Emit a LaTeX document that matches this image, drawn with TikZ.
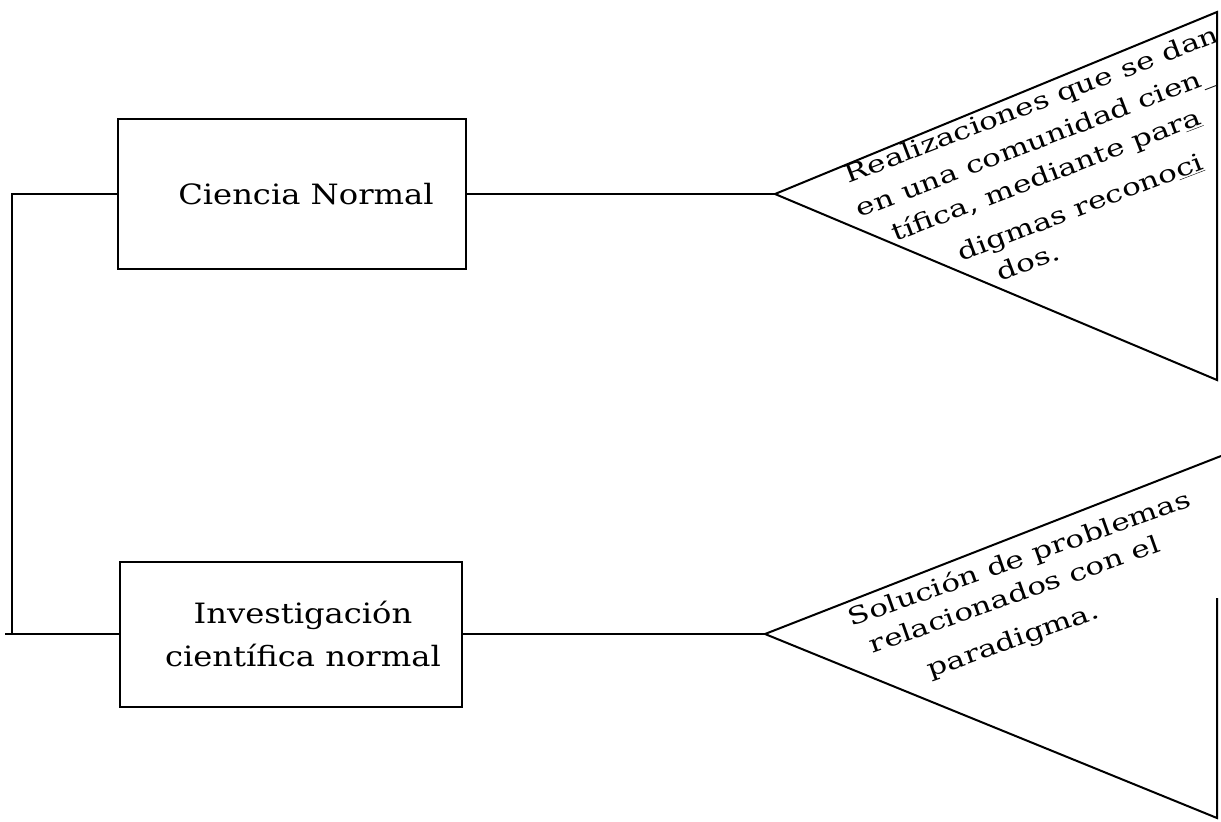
\documentclass[tikz,border=0pt]{standalone}
\usepackage{fontspec}
\setmainfont{DejaVu Serif}[FakeStretch=1.15]
\newfontfamily\wfont{DejaVu Serif}[FakeStretch=1.3]
\begin{document}
\begin{tikzpicture}[x=1pt,y=-1pt,line width=2pt,line join=miter,
  box/.style={draw,inner sep=0pt,align=center,font=\fontsize{28}{43}\selectfont},
  wtext/.style={anchor=base west,inner sep=0pt,font=\wfont\fontsize{24}{28}\selectfont}]
\useasboundingbox (0,0) rectangle (1221,822);
% boxes
\node[box,minimum width=348pt,minimum height=150pt] (b1) at (292,194) {\hspace*{28pt}Ciencia Normal};
\node[box,minimum width=342pt,minimum height=145pt] (b2) at (291,634) {\hspace*{24pt}Investigación\\\hspace*{24pt}científica normal};
% left connector
\coordinate (lft) at (12,0);
\coordinate (ext) at (5,0);
\draw (b1.west) -- (b1.west -| lft) -- (b2.west -| lft);
\draw (b2.west -| ext) -- (b2.west);
% triangle 1
\coordinate (a1) at (775,194);
\coordinate (u1) at (1217,12);
\coordinate (d1) at (1217,380);
\draw (b1.east) -- (a1);
\draw (a1) -- (u1) -- (d1) -- cycle;
\begin{scope}
\clip (a1) -- (u1) -- (d1) -- cycle;
\node[wtext,rotate=21] (t11) at (848,184) {Realizaciones que se dan};
\node[wtext,rotate=21] (t12) at (859,218) {en una comunidad cien\_};
\node[wtext,rotate=21] (t13) at (895,242) {tífica, mediante par\underline{a}};
\node[wtext,rotate=21] (t14) at (961,262) {digmas recono\underline{ci}};
\node[wtext,rotate=21] (t15) at (1000,282) {dos.};
\end{scope}
% triangle 2
\coordinate (a2) at (765,634);
\coordinate (u2) at (1221,456);
\coordinate (d2) at (1217,818);
\coordinate (r2) at (1217,598);
\draw (b2.east) -- (a2);
\draw (u2) -- (a2) -- (d2) -- (r2);
\node[wtext,rotate=19.5] (t21) at (851,627) {Solución de problemas};
\node[wtext,rotate=19.5] (t22) at (872,654) {relacionados con el};
\node[wtext,rotate=19.5] (t23) at (930,678) {paradigma.};
\end{tikzpicture}
\end{document}
